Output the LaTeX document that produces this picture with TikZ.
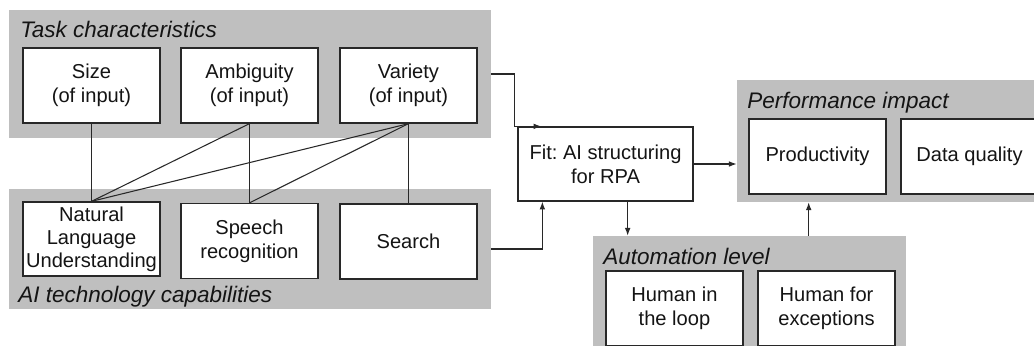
\documentclass[tikz,border=0pt]{standalone}
\usepackage{fontspec}
\setmainfont{Liberation Sans}
\usetikzlibrary{arrows.meta, positioning}
\frenchspacing

\definecolor{panelgray}{RGB}{191,191,191}
\definecolor{edgegray}{RGB}{40,40,40}
\definecolor{linegray}{RGB}{40,40,40}

\begin{document}
\begin{tikzpicture}[
x=0.025cm, y=-0.025cm,
panel/.style={rectangle, fill=panelgray, draw=none, inner sep=0pt},
block/.style={rectangle, draw=edgegray, line width=0.9pt, fill=white, align=center,
text=black!92, font=\fontsize{14.3}{17}\selectfont,
minimum width=3.425cm, minimum height=1.875cm, inner sep=1pt},
panel-title/.style={anchor=base west, inner sep=0pt, text=black!92,
font=\fontsize{16}{19}\selectfont\itshape},
line/.style={draw=linegray, line width=0.75pt},
arrow/.style={line, -{Latex[length=5.5pt, width=4pt]}}
]
\useasboundingbox (0,0) rectangle (1034,345);

% panels
\node [panel, minimum width=12.05cm, minimum height=3.2cm] (task) at (250,74) {};
\node [panel, minimum width=12.05cm, minimum height=3.0cm] (ai) at (250,249) {};
\node [panel, minimum width=7.825cm, minimum height=3.05cm] (perf) at (893.5,141) {};
\node [panel, minimum width=7.825cm, minimum height=3.0cm] (auto) at (749.5,296) {};

\node [panel-title] (task-title) at (20,37) {Task characteristics};
\node [panel-title] (ai-title) at (18,302) {AI technology capabilities};
\node [panel-title] (perf-title) at (747,108) {Performance impact};
\node [panel-title] (auto-title) at (603,264) {Automation level};

% task characteristics
\node [block] (size) at (91.5,85.5) {Size\\(of input)};
\node [block] (amb) at (249.5,85.5) {Ambiguity\\(of input)};
\node [block] (var) at (408.5,85.5) {Variety\\(of input)};

% AI capabilities
\node [block, minimum height=1.85cm, font=\fontsize{14.3}{16.3}\selectfont] (nlu) at (91.5,239) {Natural\\Language\\Understanding};
\node [block] (speech) at (249.5,241) {Speech\\recognition};
\node [block] (search) at (408.5,241.5) {Search};

% fit
\node [block, minimum width=4.375cm, minimum height=1.85cm] (fit) at (605.5,164) {Fit: AI structuring\\for RPA};

% performance impact
\node [block] (prod) at (817.5,156.5) {Productivity};
\node [block] (dq) at (969.5,156.5) {Data quality};

% automation level
\node [block] (hil) at (674.5,308.5) {Human in\\the loop};
\node [block] (hfe) at (826.5,308.5) {Human for\\exceptions};

% links
\draw [line] (size.south) -- (nlu.north);
\draw [line] (amb.south) -- (nlu.north);
\draw [line] (var.south) -- (nlu.north);
\draw [line] (amb.south) -- (speech.north);
\draw [line] (var.south) -- (speech.north);
\draw [line] (var.south) -- (search.north);

\coordinate (dn) at ([xshift=0.875cm]auto.north west);
\coordinate (up) at ([xshift=1.8cm]perf.south west);

\draw [arrow] (task.east) -| ([xshift=-0.075cm]fit.north west) -- ([xshift=0.6cm]fit.north west);
\draw [arrow] (ai.east) -| ([xshift=0.625cm]fit.south west);
\draw [arrow] (fit.east) -- (fit.east -| perf.west);
\draw [arrow] (fit.south -| dn) -- (dn);
\draw [arrow] (auto.north -| up) -- (up);

\end{tikzpicture}
\end{document}
